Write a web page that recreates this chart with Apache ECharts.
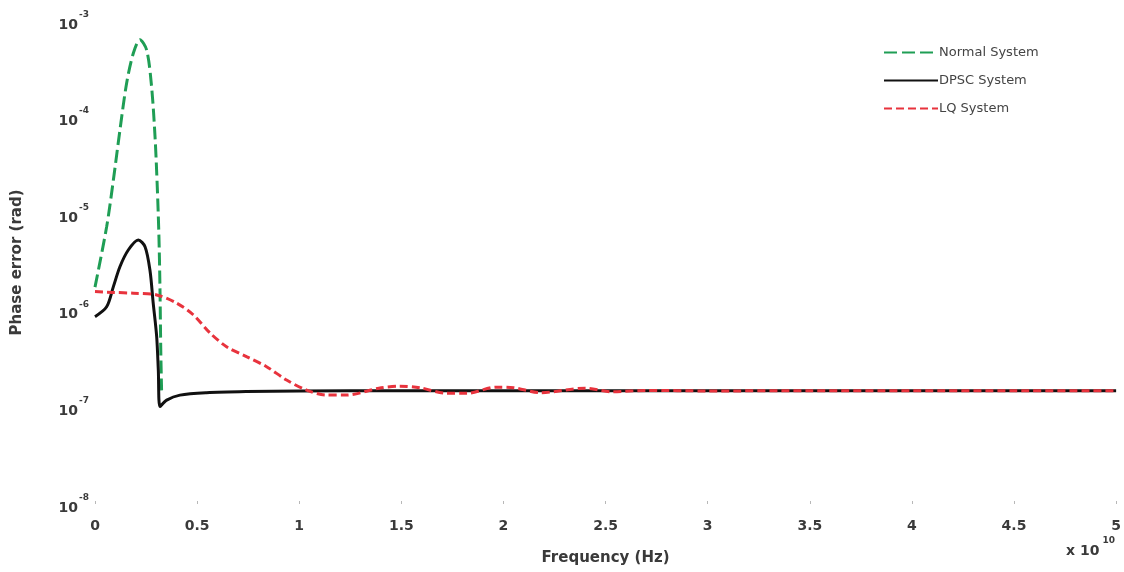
<!DOCTYPE html>
<html>
<head>
<meta charset="utf-8">
<script src="https://cdn.jsdelivr.net/npm/echarts@6/dist/echarts.min.js"></script>
<style>
  html, body { margin: 0; padding: 0; background: #fff; }
  #chart { width: 1124px; height: 572px; }
</style>
</head>
<body>
<div id="chart"></div>
<script>
// Frequency in units of 1e10 Hz, phase error in rad
const freqNormal = [0, 0.057, 0.09, 0.122, 0.155, 0.188, 0.22, 0.253, 0.277, 0.294, 0.305, 0.313, 0.318, 0.322, 0.326];
const errNormal  = [1.76e-6, 7.4e-6, 2.26e-5, 7.4e-5, 2.28e-4, 4.67e-4, 6.4e-4, 5.0e-4, 2.1e-4, 6.3e-5, 1.9e-5, 5.9e-6, 1.8e-6, 4e-7, 1.5e-7];

const freqDpsc = [0, 0.057, 0.09, 0.122, 0.163, 0.212, 0.245, 0.269, 0.285, 0.302, 0.31, 0.318, 0.351, 0.416, 0.546, 0.742, 1.0, 1.5, 2.0, 3.0, 4.0, 5.0];
const errDpsc  = [8.7e-7, 1.1e-6, 1.78e-6, 2.86e-6, 4.26e-6, 5.41e-6, 4.61e-6, 2.64e-6, 1.2e-6, 5.4e-7, 2.44e-7, 1.02e-7, 1.19e-7, 1.34e-7, 1.42e-7, 1.46e-7, 1.48e-7, 1.49e-7, 1.49e-7, 1.49e-7, 1.49e-7, 1.49e-7];

const freqLq = [0, 0.09, 0.188, 0.302, 0.4, 0.481, 0.563, 0.644, 0.742, 0.84, 0.938, 1.036, 1.134, 1.23, 1.39, 1.49, 1.59, 1.72, 1.82, 1.965, 2.05, 2.18, 2.40, 2.535, 2.7, 3.0, 3.5, 4.0, 4.5, 5.0];
const errLq  = [1.58e-6, 1.55e-6, 1.52e-6, 1.46e-6, 1.2e-6, 9.1e-7, 5.9e-7, 4.25e-7, 3.35e-7, 2.64e-7, 1.92e-7, 1.51e-7, 1.34e-7, 1.34e-7, 1.58e-7, 1.66e-7, 1.6e-7, 1.4e-7, 1.4e-7, 1.62e-7, 1.6e-7, 1.42e-7, 1.58e-7, 1.45e-7, 1.5e-7, 1.48e-7, 1.49e-7, 1.49e-7, 1.49e-7, 1.49e-7];

const seriesNames = ['Normal System', 'DPSC System', 'LQ System'];
const xTickLabels = ['0', '0.5', '1', '1.5', '2', '2.5', '3', '3.5', '4', '4.5', '5'];

const pairs = (xs, ys) => xs.map((x, i) => [x, ys[i]]);

const FONT = 'DejaVu Sans';
const labelColor = '#3a3a3a';

const chart = echarts.init(document.getElementById('chart'));
chart.setOption({
  backgroundColor: '#ffffff',
  animation: false,
  grid: { left: 95, right: 7, top: 21, bottom: 68 },
  legend: {
    orient: 'vertical',
    left: 878,
    top: 41,
    itemWidth: 54,
    itemHeight: 14,
    itemGap: 15,
    itemStyle: { opacity: 0 },
    textStyle: { fontFamily: FONT, fontSize: 13, color: '#444', padding: [0, 0, 0, -4] },
    data: seriesNames
  },
  xAxis: {
    type: 'value',
    min: 0,
    max: 5,
    interval: 0.5,
    axisLine: { show: false },
    axisTick: { show: true, inside: true, length: 3, lineStyle: { color: '#b8b8b8' } },
    splitLine: { show: false },
    axisLabel: {
      margin: 15,
      fontFamily: FONT,
      fontWeight: 'bold',
      fontSize: 14,
      color: labelColor,
      formatter: (v) => xTickLabels[Math.round(v / 0.5)]
    },
    name: 'Frequency (Hz)',
    nameLocation: 'middle',
    nameGap: 47,
    nameTextStyle: { fontFamily: FONT, fontWeight: 'bold', fontSize: 15, color: labelColor }
  },
  yAxis: {
    type: 'log',
    logBase: 10,
    min: 1e-8,
    max: 1e-3,
    axisLine: { show: false },
    axisTick: { show: false },
    splitLine: { show: false },
    axisLabel: {
      margin: 6,
      fontFamily: FONT,
      color: labelColor,
      formatter: (v) => '{b|10}{s|' + Math.round(Math.log10(v)) + '}',
      rich: {
        b: { fontFamily: FONT, fontWeight: 'bold', fontSize: 14, color: labelColor, padding: [8, 0, 0, 0] },
        s: { fontFamily: FONT, fontWeight: 'bold', fontSize: 9, color: labelColor, verticalAlign: 'top', padding: [0, 0, 0, 1] }
      }
    },
    name: 'Phase error (rad)',
    nameLocation: 'middle',
    nameGap: 70,
    nameTextStyle: { fontFamily: FONT, fontWeight: 'bold', fontSize: 15, color: labelColor }
  },
  graphic: [{
    type: 'text',
    left: 1066,
    top: 536,
    style: {
      text: '{b|x 10}{s|10}',
      rich: {
        b: { fontFamily: FONT, fontWeight: 'bold', fontSize: 14, fill: labelColor, padding: [8, 0, 0, 0] },
        s: { fontFamily: FONT, fontWeight: 'bold', fontSize: 9, fill: labelColor, verticalAlign: 'top', padding: [0, 0, 0, 3] }
      }
    }
  }],
  series: [
    {
      name: seriesNames[0],
      type: 'line',
      data: pairs(freqNormal, errNormal),
      symbol: 'none',
      smooth: 0.3,
      z: 2,
      lineStyle: { color: '#1f9e55', width: 3, type: [13, 5] },
      itemStyle: { color: '#1f9e55' }
    },
    {
      name: seriesNames[1],
      type: 'line',
      data: pairs(freqDpsc, errDpsc),
      symbol: 'none',
      smooth: 0.3,
      z: 3,
      lineStyle: { color: '#111111', width: 3 },
      itemStyle: { color: '#111111' }
    },
    {
      name: seriesNames[2],
      type: 'line',
      data: pairs(freqLq, errLq),
      symbol: 'none',
      smooth: 0.3,
      z: 4,
      lineStyle: { color: '#e8333d', width: 3, type: [8, 4] },
      itemStyle: { color: '#e8333d' }
    }
  ]
});
</script>
</body>
</html>
